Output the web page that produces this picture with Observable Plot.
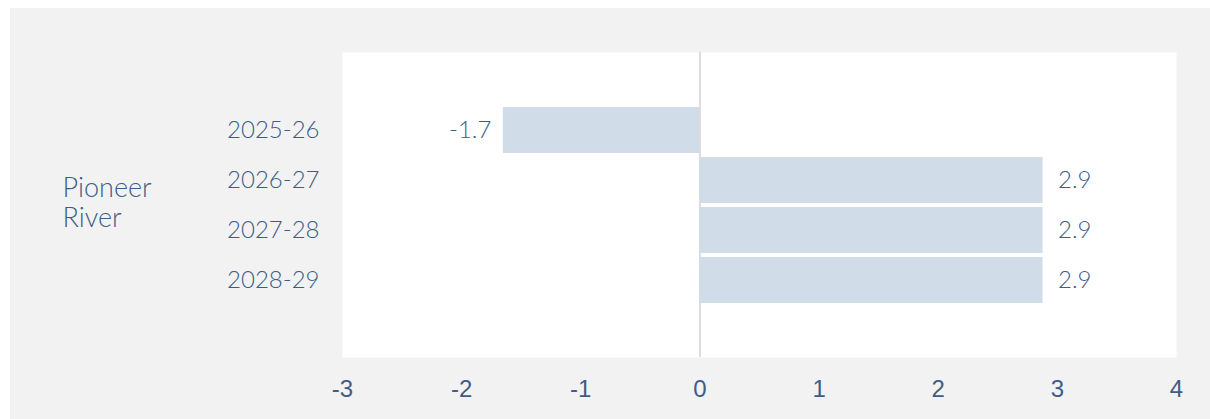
<!DOCTYPE html>
<html>
<head>
<meta charset="utf-8">
<script src="https://cdn.jsdelivr.net/npm/d3@7"></script>
<script src="https://cdn.jsdelivr.net/npm/@observablehq/plot@0.6"></script>
<style>
  html, body { margin: 0; padding: 0; background: #ffffff; }
  #wrap { position: absolute; left: 10px; top: 8px; width: 1200px; height: 411px; background: #f2f2f2; }
  #wrap svg { display: block; }
</style>
</head>
<body>
<div id="wrap"></div>
<script>
const group = "Pioneer River";
const years = ["2025-26", "2026-27", "2027-28", "2028-29"];
const values = [-1.65, 2.88, 2.88, 2.88];
const valueLabels = ["-1.7", "2.9", "2.9", "2.9"];
const xTicks = [-3, -2, -1, 0, 1, 2, 3, 4];

const textColor = "#3d5d88";
const font = "Lato, sans-serif";
const data = years.map((y, i) => ({year: y, value: values[i], label: valueLabels[i]}));

const chart = Plot.plot({
  width: 1200,
  height: 411,
  marginLeft: 332,
  marginRight: 34,
  marginTop: 44,
  marginBottom: 62,
  style: {background: "transparent", color: textColor, fontFamily: font, fontSize: "24px"},
  x: {domain: [-3, 4], ticks: xTicks, tickFormat: d => String(d)},
  y: {domain: years, paddingInner: 0.09, paddingOuter: 1.04},
  marks: [
    Plot.frame({fill: "white", stroke: null}),
    Plot.ruleX([0], {stroke: "#dcdcdc", strokeWidth: 2}),
    Plot.barX(data, {x: "value", y: "year", fill: "#d0dce7"}),
    Plot.text(data.filter(d => d.value < 0), {
      x: "value", y: "year", text: "label", textAnchor: "end", dx: -12,
      fill: textColor, fontSize: 24, fontFamily: font, fontWeight: 300
    }),
    Plot.text(data.filter(d => d.value >= 0), {
      x: "value", y: "year", text: "label", textAnchor: "start", dx: 15,
      fill: textColor, fontSize: 24, fontFamily: font, fontWeight: 300
    }),
    Plot.axisX({ticks: xTicks, tickFormat: d => String(d), tickSize: 0, tickPadding: 22,
      fontSize: 24, fontFamily: "'Liberation Sans', Arial, sans-serif", fill: textColor, label: null}),
    Plot.axisY({tickSize: 0, tickPadding: 23, fontSize: 24, fontFamily: font, fontWeight: 300, fill: textColor, label: null}),
    Plot.text([group], {
      frameAnchor: "left", text: d => d.replace(" ", "\n"), textAnchor: "start",
      dx: -280, dy: -3, lineHeight: 1.11, fill: textColor, fontSize: 27, fontFamily: font, fontWeight: 300
    })
  ]
});

document.getElementById("wrap").appendChild(chart);
</script>
</body>
</html>
